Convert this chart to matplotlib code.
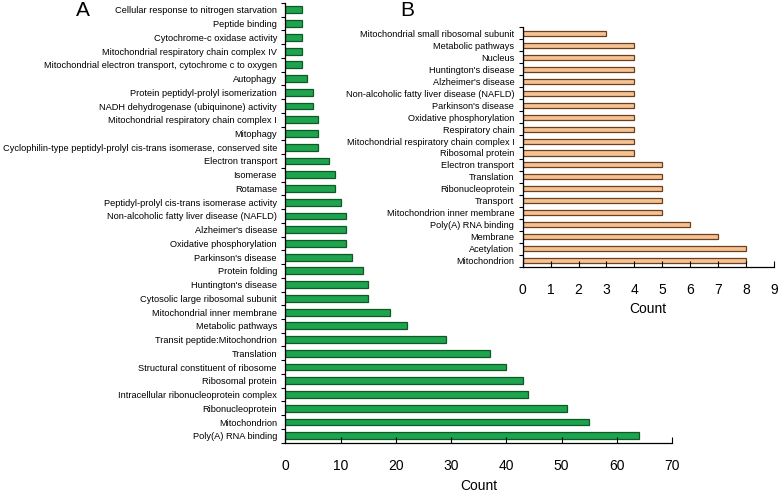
"""
Два горизонтальных барплота (A и B) с количеством терминов
"""

import matplotlib
matplotlib.use('Agg')
import matplotlib.pyplot as plt
import numpy as np

plt.rcParams['font.family'] = ['Liberation Sans', 'DejaVu Sans']

# Панель A (сверху вниз)
terms_a = [
    "Cellular response to nitrogen starvation",
    "Peptide binding",
    "Cytochrome-c oxidase activity",
    "Mitochondrial respiratory chain complex IV",
    "Mitochondrial electron transport, cytochrome c to oxygen",
    "Autophagy",
    "Protein peptidyl-prolyl isomerization",
    "NADH dehydrogenase (ubiquinone) activity",
    "Mitochondrial respiratory chain complex I",
    "Mitophagy",
    "Cyclophilin-type peptidyl-prolyl cis-trans isomerase, conserved site",
    "Electron transport",
    "Isomerase",
    "Rotamase",
    "Peptidyl-prolyl cis-trans isomerase activity",
    "Non-alcoholic fatty liver disease (NAFLD)",
    "Alzheimer's disease",
    "Oxidative phosphorylation",
    "Parkinson's disease",
    "Protein folding",
    "Huntington's disease",
    "Cytosolic large ribosomal subunit",
    "Mitochondrial inner membrane",
    "Metabolic pathways",
    "Transit peptide:Mitochondrion",
    "Translation",
    "Structural constituent of ribosome",
    "Ribosomal protein",
    "Intracellular ribonucleoprotein complex",
    "Ribonucleoprotein",
    "Mitochondrion",
    "Poly(A) RNA binding",
]
counts_a = [3, 3, 3, 3, 3, 4, 5, 5, 6, 6, 6, 8, 9, 9, 10, 11, 11, 11, 12, 14,
            15, 15, 19, 22, 29, 37, 40, 43, 44, 51, 55, 64]
ticks_a = [0, 10, 20, 30, 40, 50, 60, 70]

# Панель B (сверху вниз)
terms_b = [
    "Mitochondrial small ribosomal subunit",
    "Metabolic pathways",
    "Nucleus",
    "Huntington's disease",
    "Alzheimer's disease",
    "Non-alcoholic fatty liver disease (NAFLD)",
    "Parkinson's disease",
    "Oxidative phosphorylation",
    "Respiratory chain",
    "Mitochondrial respiratory chain complex I",
    "Ribosomal protein",
    "Electron transport",
    "Translation",
    "Ribonucleoprotein",
    "Transport",
    "Mitochondrion inner membrane",
    "Poly(A) RNA binding",
    "Membrane",
    "Acetylation",
    "Mitochondrion",
]
counts_b = [3, 4, 4, 4, 4, 4, 4, 4, 4, 4, 4, 5, 5, 5, 5, 5, 6, 7, 8, 8]
ticks_b = [0, 1, 2, 3, 4, 5, 6, 7, 8, 9]


def draw_panel(ax, terms, counts, ticks, fc, ec, height, label_size, tick_size, labelpad):
    n = len(terms)
    y = np.arange(n)
    ax.barh(y, counts, height=height, color=fc, edgecolor=ec, linewidth=0.9)
    ax.set_ylim(n - 0.5, -0.5)
    ax.set_xlim(ticks[0], ticks[-1])
    ax.set_yticks(y)
    ax.set_yticklabels(terms, fontsize=label_size)
    ax.tick_params(axis='y', length=0, pad=6)
    # засечки между категориями
    ax.set_yticks(np.arange(n + 1) - 0.5, minor=True)
    ax.tick_params(axis='y', which='minor', length=3, width=0.8, direction='out')
    ax.set_xticks(ticks)
    ax.tick_params(axis='x', direction='in', length=4, width=0.8, pad=12,
                   labelsize=tick_size)
    ax.set_xlabel('Count', fontsize=tick_size, labelpad=labelpad)
    for s in ['top', 'right']:
        ax.spines[s].set_visible(False)
    for s in ['left', 'bottom']:
        ax.spines[s].set_linewidth(0.9)
    ax.patch.set_alpha(0)


fig = plt.figure(figsize=(7.78, 4.93), dpi=100)

ax_a = fig.add_axes([0.3667, 0.1022, 0.4971, 0.8917])
draw_panel(ax_a, terms_a, counts_a, ticks_a, '#1ea34f', '#0d5a25', 0.5, 6.7, 10, 4)

ax_b = fig.add_axes([0.6718, 0.4590, 0.3230, 0.4856])
draw_panel(ax_b, terms_b, counts_b, ticks_b, '#f5c291', '#6b3f22', 0.42, 6.6, 10, 3)

fig.text(0.107, 0.978, 'A', fontsize=15, ha='center', va='center')
fig.text(0.524, 0.978, 'B', fontsize=15, ha='center', va='center')

plt.savefig('out.png', dpi=100)
plt.close()
